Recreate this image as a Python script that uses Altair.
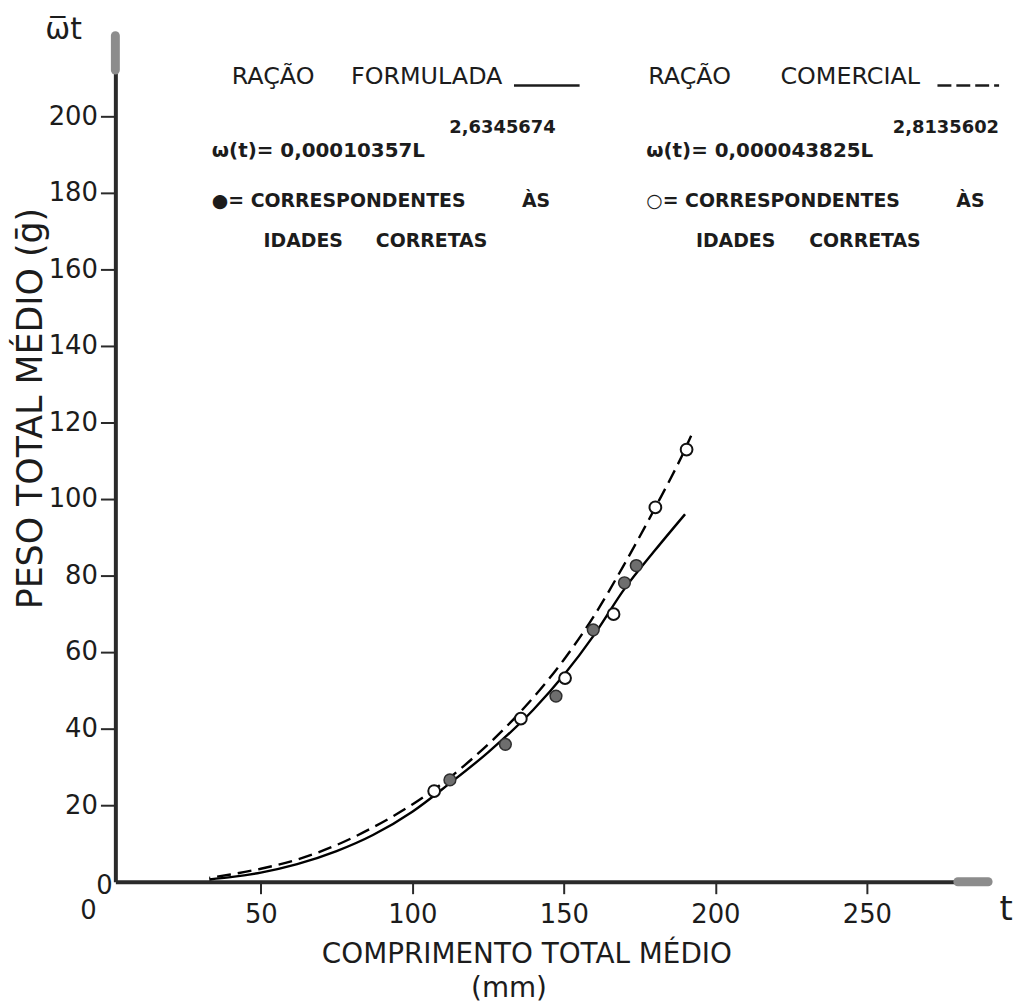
import altair as alt
import pandas as pd

# ---- data ----
# fitted curves (comprimento L in mm, peso W in g)
formulada_L = [33, 40, 50, 62, 75, 87, 100, 112, 125, 140, 150, 160, 170, 180, 190]
formulada_W = [0.6, 1.2, 2.4, 4.6, 8.0, 12.2, 18.3, 25.5, 33.8, 45.0, 54.0, 64.5, 76.5, 86.5, 96.0]
comercial_L = [33, 40, 50, 62, 75, 87, 100, 107, 120, 135, 150, 160, 170, 180, 190, 192]
comercial_W = [1.0, 1.9, 3.4, 5.8, 9.6, 14.2, 20.2, 24.0, 32.3, 43.8, 58.0, 69.5, 83.0, 97.5, 113.0, 116.5]

# observed points
filled_L = [112.4, 130.7, 147.4, 159.7, 170.0, 173.9]
filled_W = [26.6, 35.9, 48.5, 65.8, 78.1, 82.6]
open_L = [107.2, 135.8, 150.4, 166.4, 180.2, 190.5]
open_W = [23.7, 42.6, 53.2, 69.9, 97.8, 112.9]

x_ticks = [50, 100, 150, 200, 250]
y_ticks = [20, 40, 60, 80, 100, 120, 140, 160, 180, 200]

# ---- layout ----
W, H = 881, 855
OX, OY = 116, 29   # page position of plot origin
FONT = "DejaVu Sans"
INK = "#1c1c1c"

xs = alt.Scale(domain=[2, 291], nice=False, zero=False)
ys = alt.Scale(domain=[0, 222], nice=False, zero=False)

xaxis = alt.Axis(values=x_ticks, title=None, grid=False, domainColor="#2a2a2a", domainWidth=4,
                 tickColor="#2a2a2a", tickWidth=2, tickSize=12, labelFontSize=26, labelFont=FONT,
                 labelColor=INK, labelPadding=8, labelFlush=False)
yaxis = alt.Axis(values=y_ticks, title=None, grid=False, domainColor="#2a2a2a", domainWidth=4,
                 tickColor="#2a2a2a", tickWidth=2, tickSize=15, labelFontSize=26, labelFont=FONT,
                 labelColor=INK, labelPadding=3)

df_f = pd.DataFrame({"L": formulada_L, "W": formulada_W})
df_c = pd.DataFrame({"L": comercial_L, "W": comercial_W})
df_pf = pd.DataFrame({"L": filled_L, "W": filled_W})
df_po = pd.DataFrame({"L": open_L, "W": open_W})

line_f = alt.Chart(df_f).mark_line(color="black", strokeWidth=2.4, interpolate="monotone").encode(
    x=alt.X("L:Q", scale=xs, axis=xaxis), y=alt.Y("W:Q", scale=ys, axis=yaxis))
line_c = alt.Chart(df_c).mark_line(color="black", strokeWidth=2.4, strokeDash=[14, 7],
                                   strokeDashOffset=13, interpolate="monotone").encode(
    x=alt.X("L:Q", scale=xs), y=alt.Y("W:Q", scale=ys))
pts_f = alt.Chart(df_pf).mark_point(shape="circle", filled=True, size=140, fill="#6e6e6e",
                                    stroke="#2e2e2e", strokeWidth=1.5, opacity=1).encode(
    x=alt.X("L:Q", scale=xs), y=alt.Y("W:Q", scale=ys))
pts_o = alt.Chart(df_po).mark_point(shape="circle", filled=True, size=140, fill="white",
                                    stroke="#111111", strokeWidth=2, opacity=1).encode(
    x=alt.X("L:Q", scale=xs), y=alt.Y("W:Q", scale=ys))

# grey rounded ends of the axes
cap_y = alt.Chart(pd.DataFrame({"L": [2], "W": [212], "W2": [221]})).mark_rule(
    color="#8c8c8c", strokeWidth=9, strokeCap="round").encode(
    x=alt.X("L:Q", scale=xs), y=alt.Y("W:Q", scale=ys), y2="W2:Q")
cap_x = alt.Chart(pd.DataFrame({"L": [280], "L2": [290], "W": [0]})).mark_rule(
    color="#8c8c8c", strokeWidth=9, strokeCap="round").encode(
    x=alt.X("L:Q", scale=xs), x2="L2:Q", y=alt.Y("W:Q", scale=ys))


def txt(s, px, py, size, align="left", bold=False, angle=0):
    kw = dict(font=FONT, fontSize=size, color=INK, align=align, baseline="middle",
              fontWeight="bold" if bold else "normal")
    if angle:
        kw["angle"] = angle
    return alt.Chart(pd.DataFrame({"t": [s]})).mark_text(**kw).encode(
        x=alt.value(px - OX), y=alt.value(py - OY), text="t:N")


def seg(x1, x2, py, dash=None):
    kw = dict(color=INK, strokeWidth=2.5)
    if dash:
        kw["strokeDash"] = dash
    return alt.Chart(pd.DataFrame({"a": [0]})).mark_rule(**kw).encode(
        x=alt.value(x1 - OX), x2=alt.value(x2 - OX), y=alt.value(py - OY))


texts = [
    txt("ω\u0305t", 64, 27, 30, align="center"),
    txt("0", 105, 888, 26, align="center"),
    txt("0", 89, 913, 26, align="center"),
    txt("t", 1012, 912, 34, align="center"),
    txt("PESO  TOTAL  MÉDIO (ḡ)", 31, 408, 35, align="center", angle=270),
    txt("COMPRIMENTO TOTAL MÉDIO", 530, 958, 28, align="center"),
    txt("(mm)", 512, 992, 28, align="center"),
    # legend block 1
    txt("RAÇÃO", 233, 74, 24),
    txt("FORMULADA", 353, 74, 24),
    seg(517, 583, 83),
    txt("ω(t)= 0,00010357L", 213, 149, 20, bold=True),
    txt("2,6345674", 452, 126, 18, bold=True),
    txt("●= CORRESPONDENTES", 213, 199, 19, bold=True),
    txt("ÀS", 525, 199, 19, bold=True),
    txt("IDADES", 265, 239, 19, bold=True),
    txt("CORRETAS", 378, 239, 19, bold=True),
    # legend block 2
    txt("RAÇÃO", 652, 74, 24),
    txt("COMERCIAL", 785, 74, 24),
    seg(943, 1005, 83, dash=[14, 5]),
    txt("ω(t)= 0,000043825L", 650, 149, 20, bold=True),
    txt("2,8135602", 898, 126, 18, bold=True),
    txt("○= CORRESPONDENTES", 650, 199, 19, bold=True),
    txt("ÀS", 962, 199, 19, bold=True),
    txt("IDADES", 700, 239, 19, bold=True),
    txt("CORRETAS", 814, 239, 19, bold=True),
]

chart = alt.layer(line_f, line_c, cap_y, cap_x, pts_f, pts_o, *texts).properties(
    width=W, height=H,
    padding={"left": 108, "top": 21, "right": 24, "bottom": 120},
    autosize=alt.AutoSizeParams(type="none"),
    background="white",
).configure_view(stroke=None)

chart.save("out.html", embed_options={"renderer": "svg", "actions": False})
